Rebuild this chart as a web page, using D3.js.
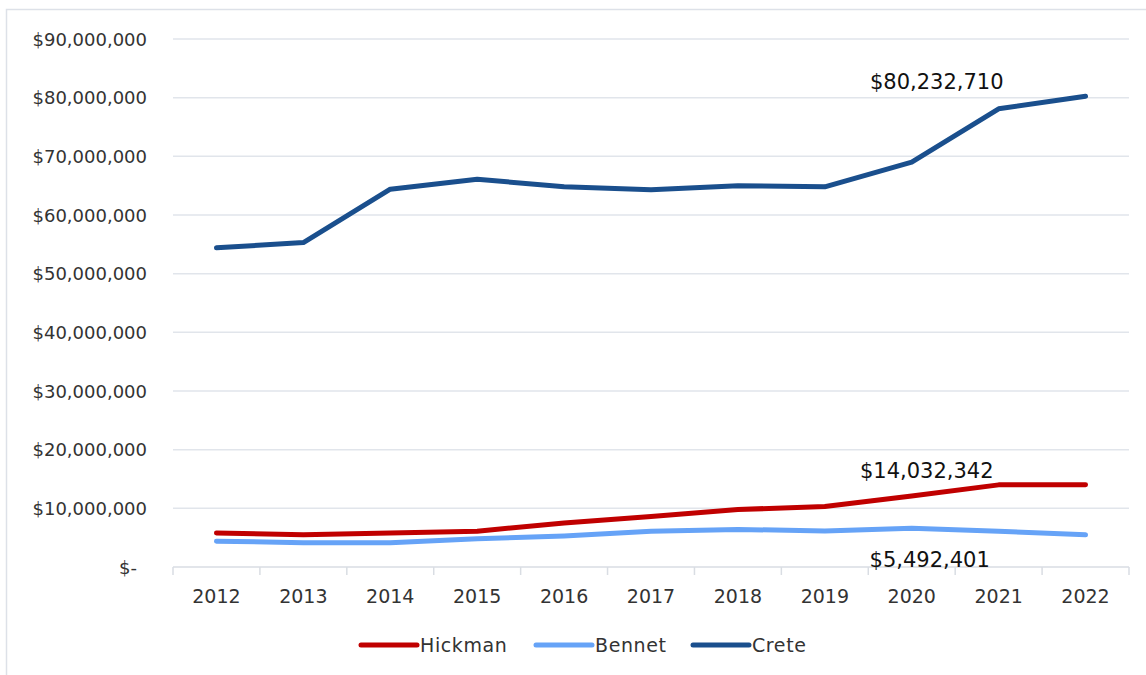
<!doctype html>
<html>
<head>
    <meta charset="utf-8">
    <title>Hickman / Bennet / Crete</title>
    <script src="https://d3js.org/d3.v7.min.js"></script>
    <style>
        body { margin: 0; background: #fff; }
        svg { display: block; font-family: "Century Gothic", "DejaVu Sans", sans-serif; }
    </style>
</head>
<body>
    <svg id="chart" width="1146" height="675"></svg>
    <script>
        // data
        var years = ["2012","2013","2014","2015","2016","2017","2018","2019","2020","2021","2022"];
        var hickman = [5800000, 5500000, 5800000, 6100000, 7500000, 8600000, 9800000, 10300000, 12100000, 14000000, 14032342];
        var bennet  = [4400000, 4150000, 4150000, 4800000, 5300000, 6100000, 6400000, 6150000, 6600000, 6100000, 5492401];
        var crete   = [54400000, 55300000, 64400000, 66100000, 64800000, 64300000, 65000000, 64800000, 69000000, 78100000, 80232710];
        var seriesNames = ["Hickman", "Bennet", "Crete"];
        var yTicks = [0, 10000000, 20000000, 30000000, 40000000, 50000000, 60000000, 70000000, 80000000, 90000000];

        var colors = { Hickman: "#c00000", Bennet: "#66a3f7", Crete: "#1a4f8d" };
        var allSeries = [
            { name: "Hickman", values: hickman },
            { name: "Bennet", values: bennet },
            { name: "Crete", values: crete }
        ];

        var svg = d3.select("#chart");

        // outer frame
        svg.append("rect")
            .attr("x", 6.5).attr("y", 9.5)
            .attr("width", 1160).attr("height", 700)
            .attr("fill", "none").attr("stroke", "#dde1e8").attr("stroke-width", 1.5);

        var plotL = 173, plotR = 1129, plotT = 39, plotB = 567;

        var x = d3.scaleBand().domain(years).range([plotL, plotR]);
        var y = d3.scaleLinear().domain([0, 90000000]).range([plotB, plotT]);

        var fmt = d3.format("$,.0f");

        // gridlines
        svg.append("g").selectAll("line")
            .data(yTicks.slice(1))
            .enter().append("line")
            .attr("x1", plotL).attr("x2", plotR)
            .attr("y1", d => y(d)).attr("y2", d => y(d))
            .attr("stroke", "#e1e5eb").attr("stroke-width", 1.5);

        // y labels
        svg.append("g").selectAll("text")
            .data(yTicks)
            .enter().append("text")
            .attr("x", d => d === 0 ? 137 : 147)
            .attr("y", d => y(d) + 6.5)
            .attr("text-anchor", "end")
            .attr("font-size", 18)
            .attr("fill", "#333")
            .text(d => d === 0 ? "$-" : fmt(d));

        // x axis line + ticks between categories
        var xa = svg.append("g");
        xa.append("line")
            .attr("x1", plotL).attr("x2", plotR)
            .attr("y1", plotB).attr("y2", plotB)
            .attr("stroke", "#d9dde3").attr("stroke-width", 1.5);
        var bounds = years.map(d => x(d)).concat([plotR]);
        xa.selectAll("line.tick")
            .data(bounds)
            .enter().append("line")
            .attr("class", "tick")
            .attr("x1", d => d).attr("x2", d => d)
            .attr("y1", plotB).attr("y2", plotB + 8)
            .attr("stroke", "#d9dde3").attr("stroke-width", 1.5);
        xa.selectAll("text")
            .data(years)
            .enter().append("text")
            .attr("x", d => x(d) + x.bandwidth() / 2)
            .attr("y", 603)
            .attr("text-anchor", "middle")
            .attr("font-size", 19)
            .attr("fill", "#333")
            .text(d => d);

        // lines
        var line = d3.line()
            .x((d, i) => x(years[i]) + x.bandwidth() / 2)
            .y(d => y(d));

        svg.append("g").selectAll("path")
            .data(allSeries)
            .enter().append("path")
            .attr("d", d => line(d.values))
            .attr("fill", "none")
            .attr("stroke", d => colors[d.name])
            .attr("stroke-width", 5)
            .attr("stroke-linecap", "round")
            .attr("stroke-linejoin", "round");

        // data labels for last values
        var labelX = x("2020") + x.bandwidth() / 2;
        var labels = [
            { v: crete[10], dx: 25, dy: -7 },
            { v: hickman[10], dx: 15, dy: -7 },
            { v: bennet[10], dx: 18, dy: 32 }
        ];
        svg.append("g").selectAll("text")
            .data(labels)
            .enter().append("text")
            .attr("x", d => labelX + d.dx)
            .attr("y", d => y(d.v) + d.dy)
            .attr("text-anchor", "middle")
            .attr("font-size", 21)
            .attr("fill", "#111")
            .text(d => fmt(d.v));

        // legend
        var legendX = { Hickman: 361, Bennet: 536, Crete: 693 };
        var lg = svg.append("g").selectAll("g")
            .data(seriesNames)
            .enter().append("g")
            .attr("transform", d => "translate(" + legendX[d] + ",645)");
        lg.append("line")
            .attr("x1", 0).attr("x2", 56)
            .attr("stroke", d => colors[d])
            .attr("stroke-width", 5)
            .attr("stroke-linecap", "round");
        lg.append("text")
            .attr("x", 59).attr("y", 7)
            .attr("font-size", 19)
            .attr("letter-spacing", 0.6)
            .attr("fill", "#333")
            .text(d => d);
    </script>
</body>
</html>
